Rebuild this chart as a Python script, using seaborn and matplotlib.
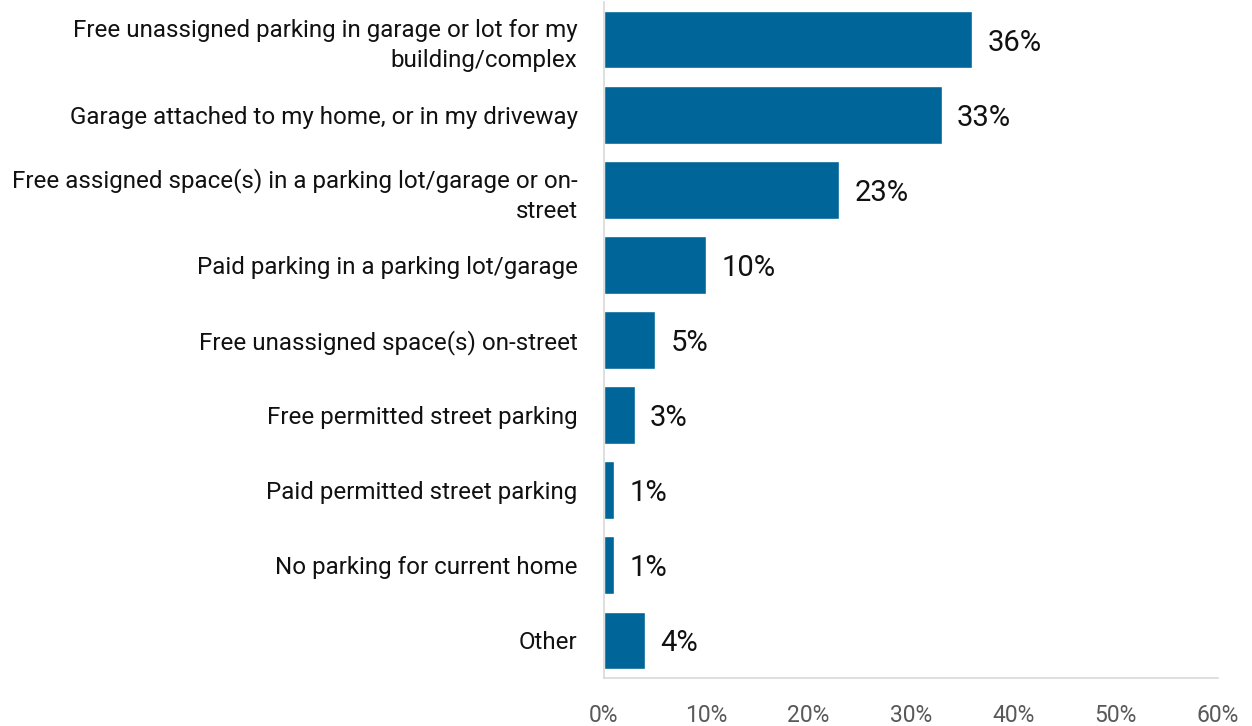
import matplotlib
matplotlib.use("Agg")
import matplotlib.pyplot as plt
import seaborn as sns
import pandas as pd

categories = [
    "Free unassigned parking in garage or lot for my\nbuilding/complex",
    "Garage attached to my home, or in my driveway",
    "Free assigned space(s) in a parking lot/garage or on-\nstreet",
    "Paid parking in a parking lot/garage",
    "Free unassigned space(s) on-street",
    "Free permitted street parking",
    "Paid permitted street parking",
    "No parking for current home",
    "Other",
]
shares = [36, 33, 23, 10, 5, 3, 1, 1, 4]
x_ticks = [0, 10, 20, 30, 40, 50, 60]

sns.set_theme(style="white")
plt.rcParams["font.family"] = ["Roboto", "DejaVu Sans"]

df = pd.DataFrame({"category": categories, "share": shares})

fig = plt.figure(figsize=(12.52, 7.26), dpi=100)
ax = fig.add_axes([604 / 1252, 1 - 678 / 726, 614 / 1252, 676 / 726])

sns.barplot(data=df, y="category", x="share", color="#006699",
            saturation=1, width=0.77, orient="h", ax=ax)

for i, v in enumerate(shares):
    ax.text(v + 1.5, i + 0.04, f"{v}%", va="center", ha="left",
            fontsize=21, color="#111111")

ax.set_xlim(0, 60)
ax.set_xticks(x_ticks)
ax.set_xticklabels([f"{t}%" for t in x_ticks], fontsize=16.5, color="#595959")
ax.tick_params(axis="x", length=0, pad=19)
ax.tick_params(axis="y", length=0, pad=19, labelsize=17.4, labelcolor="#111111")
ax.set_xlabel("")
ax.set_ylabel("")

for lbl in ax.get_yticklabels():
    lbl.set_linespacing(1.4)

for side in ("top", "right"):
    ax.spines[side].set_visible(False)
ax.spines["left"].set_color("#d9d9d9")
ax.spines["bottom"].set_color("#d9d9d9")
ax.spines["left"].set_linewidth(1.2)
ax.spines["bottom"].set_linewidth(1.2)

fig.savefig("out.png", dpi=100, facecolor="white")
